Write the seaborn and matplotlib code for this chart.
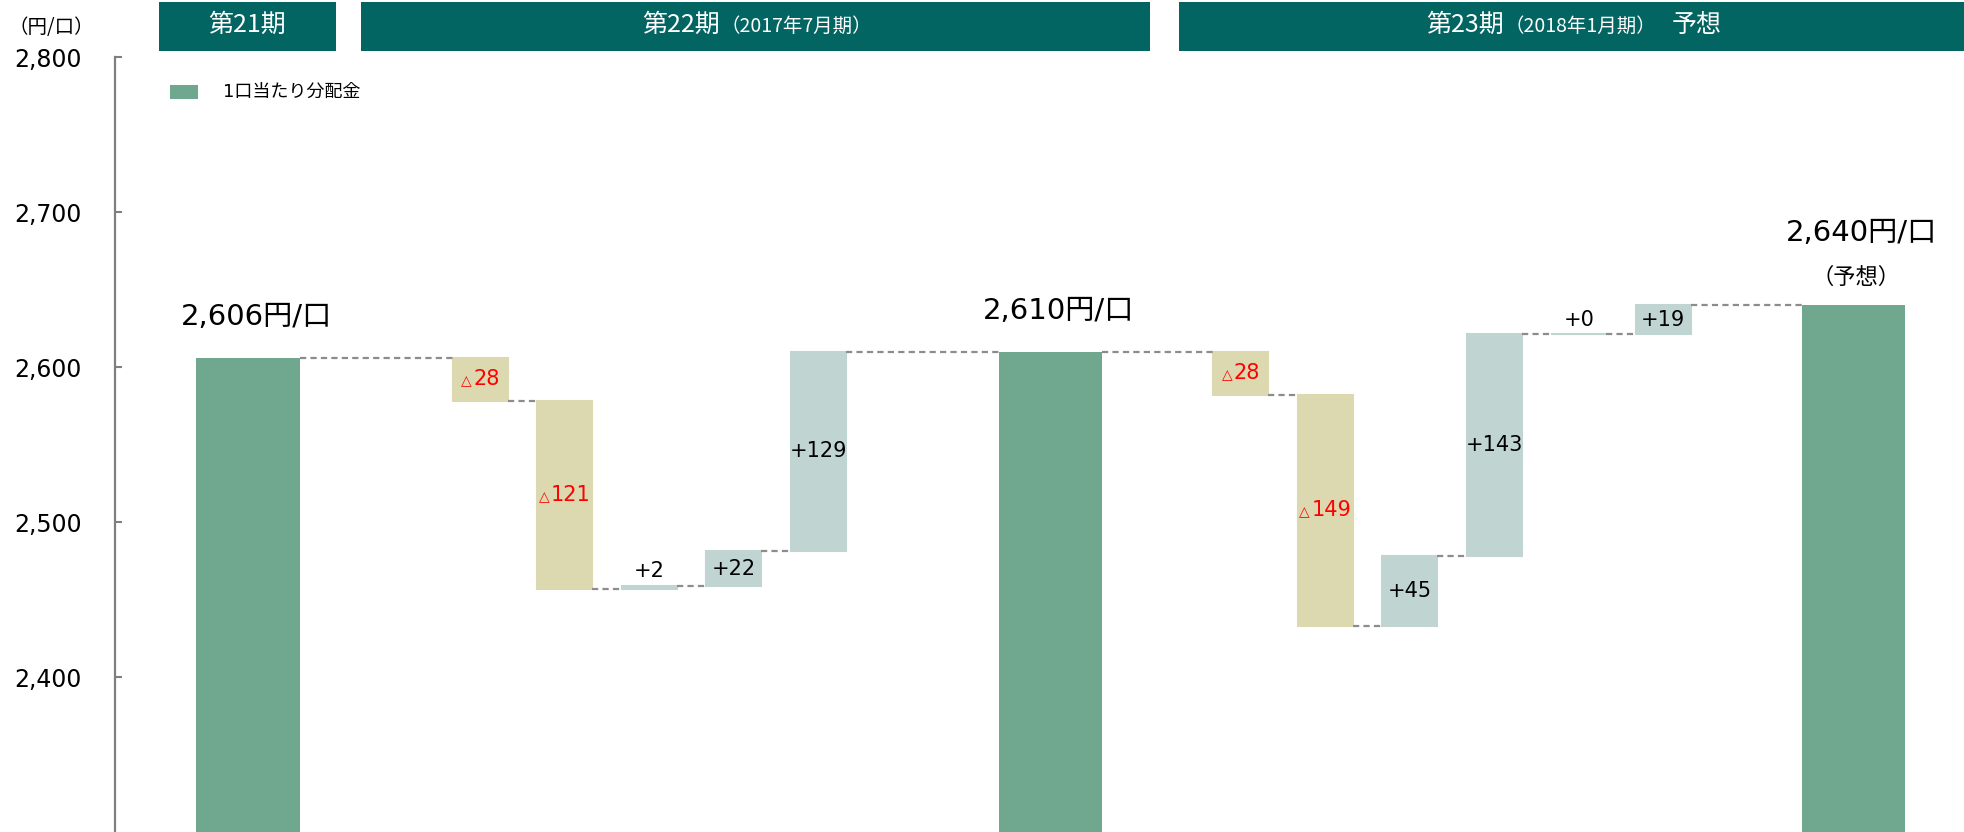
import matplotlib
matplotlib.use("Agg")
import pandas as pd
import matplotlib.pyplot as plt
import seaborn as sns
from matplotlib.patches import Rectangle
from matplotlib.ticker import FuncFormatter
from matplotlib.offsetbox import TextArea, HPacker, AnnotationBbox

# ==========================
# Data
# ==========================
step_kinds = ["total", "delta", "delta", "delta", "delta", "delta", "total",
              "delta", "delta", "delta", "delta", "delta", "delta", "total"]
step_values = [2606, -28, -121, 2, 22, 129, 2610,
               -28, -149, 45, 143, 0, 19, 2640]
total_notes = ["", "", "（予想）"]

period_names = ["第21期", "第22期", "第23期"]
period_notes = ["", "（2017年7月期）", "（2018年1月期）"]
period_extra = ["", "", "予想"]

legend_label = "1口当たり分配金"
y_ticks = [2400, 2500, 2600, 2700, 2800]

# ==========================
# Style
# ==========================
sns.set_theme(style="white")
plt.rcParams["font.family"] = ["DejaVu Sans", "Noto Sans CJK JP"]
plt.rcParams["text.color"] = "black"
plt.rcParams["ytick.labelcolor"] = "black"
CJK = ["Noto Sans CJK JP", "DejaVu Sans"]

C_TOTAL = "#70A78F"
C_NEG = "#DCD9B0"
C_POS = "#C0D5D2"
C_HEAD = "#026562"
C_LINE = "#8C8C8C"
C_RED = "#FF0000"

W, H = 1964, 832
TOTAL_W = 1.22
DELTA_W = 0.65
PERIOD = 9.5   # distance between two total bars, in delta-bar steps


def fx(px):
    return px / W


def fy(py):
    return 1 - py / H


# ==========================
# Waterfall geometry
# totals evenly spaced, the deltas between them centred in the gap
# ==========================
xpos = [0.0] * len(step_kinds)
total_idx = [i for i, k in enumerate(step_kinds) if k == "total"]
for n, i in enumerate(total_idx):
    xpos[i] = n * PERIOD
for n in range(len(total_idx) - 1):
    a, b = total_idx[n], total_idx[n + 1]
    members = list(range(a + 1, b))
    mid = (n + 0.5) * PERIOD
    for j, i in enumerate(members):
        xpos[i] = mid + j - (len(members) - 1) / 2

bottoms, heights, levels = [], [], []
level = 0
for kind, v in zip(step_kinds, step_values):
    if kind == "total":
        bottoms.append(0)
        heights.append(v)
        level = v
    else:
        bottoms.append(level)
        heights.append(v)
        level += v
    levels.append(level)

widths = [TOTAL_W if k == "total" else DELTA_W for k in step_kinds]

df = pd.DataFrame({"x": xpos, "kind": step_kinds, "value": step_values,
                   "bottom": bottoms, "height": heights, "level": levels})
tot = df[df["kind"] == "total"].reset_index(drop=True)
dlt = df[df["kind"] == "delta"].reset_index(drop=True)

# ==========================
# Figure
# ==========================
fig = plt.figure(figsize=(W / 100, H / 100), dpi=100)
ax = fig.add_axes([fx(115), 0, 1 - fx(115), fy(57)])

min_gap = tot["x"].diff().min()
sns.barplot(data=tot, x="x", y="value", native_scale=True,
            width=TOTAL_W / min_gap, color=C_TOTAL, saturation=1,
            errorbar=None, linewidth=0, ax=ax)

dcols = [C_NEG if v < 0 else C_POS for v in dlt["value"]]
ax.bar(dlt["x"], dlt["height"], bottom=dlt["bottom"], width=DELTA_W,
       color=dcols, edgecolor=dcols, linewidth=1.5)

# dashed connectors
for i in range(len(df) - 1):
    x0 = xpos[i] + widths[i] / 2
    x1 = xpos[i + 1] - widths[i + 1] / 2
    ax.plot([x0, x1], [levels[i], levels[i]], color=C_LINE, lw=1.6,
            ls=(0, (2.8, 1.9)), zorder=1)

# labels on deltas
for _, r in dlt.iterrows():
    v = r["value"]
    mid = (r["x"], r["bottom"] + r["height"] / 2)
    if v < 0:
        box = HPacker(children=[
            TextArea("△", textprops=dict(fontsize=10, color=C_RED)),
            TextArea(f"{abs(v)}", textprops=dict(fontsize=15, color=C_RED)),
        ], align="baseline", pad=0, sep=1)
        ax.add_artist(AnnotationBbox(box, mid, frameon=False,
                                     box_alignment=(0.5, 0.5)))
    elif abs(v) >= 10:
        ax.text(*mid, f"+{v}", ha="center", va="center", fontsize=15,
                color="black")
    else:
        ax.annotate(f"+{v}", xy=(r["x"], r["level"]), xytext=(0, 3),
                    textcoords="offset points", ha="center", va="bottom",
                    fontsize=15, color="black")

# labels on totals
for i, r in tot.iterrows():
    note = total_notes[i]
    off = 52 if note else 29
    ax.annotate(f"{r['value']:,}円/口", xy=(r["x"], r["value"]),
                xytext=(6, off), textcoords="offset points",
                ha="center", va="center", fontsize=21, color="black")
    if note:
        ax.annotate(note, xy=(r["x"], r["value"]), xytext=(2, 20),
                    textcoords="offset points", ha="center", va="center",
                    fontsize=16, family=CJK, color="black")

ax.set_xlim(-1.574, 20.31)
ax.set_ylim(2300, 2800)
ax.set_yticks(y_ticks)
ax.yaxis.set_major_formatter(FuncFormatter(lambda v, p: f"{int(v):,}"))
ax.set_xticks([])
ax.set_xlabel("")
ax.set_ylabel("")
for s in ["top", "right", "bottom"]:
    ax.spines[s].set_visible(False)
ax.spines["left"].set_color("#7F7F7F")
ax.spines["left"].set_linewidth(1.6)
ax.tick_params(axis="y", direction="in", length=5, width=1.5,
               color="#7F7F7F", labelcolor="black", pad=24, labelsize=17,
               left=True)
ax.patch.set_alpha(0)

# ==========================
# Header boxes
# ==========================
header_spans = [(159, 336), (361, 1150), (1179, 1964)]
header_split = [None, 720, 1504]
for i, (a, b) in enumerate(header_spans):
    fig.add_artist(Rectangle((fx(a), fy(51)), fx(b - a), 49 / H,
                             transform=fig.transFigure, color=C_HEAD,
                             lw=0, zorder=0))
    if header_split[i] is None:
        fig.text(fx((a + b) / 2), fy(25), period_names[i], ha="center",
                 va="center", fontsize=18, color="white", family=CJK)
    else:
        sp = header_split[i]
        fig.text(fx(sp), fy(25), period_names[i], ha="right", va="center",
                 fontsize=18, color="white", family=CJK)
        fig.text(fx(sp), fy(26), period_notes[i], ha="left", va="center",
                 fontsize=14, color="white", family=CJK)
    if period_extra[i]:
        fig.text(fx(1672), fy(25), period_extra[i], ha="left", va="center",
                 fontsize=18, color="white", family=CJK)

# unit and legend
fig.text(fx(8), fy(27), "（円/口）", ha="left", va="center", fontsize=14,
         family=CJK, color="black")
fig.add_artist(Rectangle((fx(170), fy(99)), fx(28), 14 / H,
                         transform=fig.transFigure, color=C_TOTAL, lw=0))
fig.text(fx(223), fy(92), legend_label, ha="left", va="center",
         fontsize=13, color="black")

fig.savefig("out.png", dpi=100)
